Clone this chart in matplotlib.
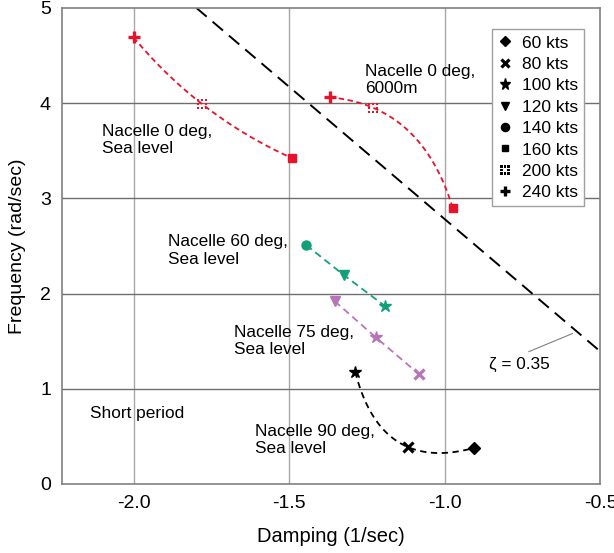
import numpy as np
import matplotlib
matplotlib.use("Agg")
import matplotlib.pyplot as plt
from matplotlib.lines import Line2D
from matplotlib.path import Path

plt.rcParams['font.family'] = ['Liberation Sans', 'DejaVu Sans']


def dotted_square():
    """Square outline broken into eight small blocks (corners and edge midpoints)."""
    verts, codes = [], []
    h = 0.32
    for cx in (-1, 0, 1):
        for cy in (-1, 0, 1):
            if cx == 0 and cy == 0:
                continue
            verts += [(cx - h, cy - h), (cx + h, cy - h), (cx + h, cy + h), (cx - h, cy + h), (cx - h, cy - h)]
            codes += [Path.MOVETO, Path.LINETO, Path.LINETO, Path.LINETO, Path.CLOSEPOLY]
    return Path(verts, codes)


# Airspeed key: label -> marker style
speeds = ["60 kts", "80 kts", "100 kts", "120 kts", "140 kts", "160 kts", "200 kts", "240 kts"]
speed_markers = {
    "60 kts": dict(marker="D", ms=6),
    "80 kts": dict(marker="x", ms=7, mew=2.3),
    "100 kts": dict(marker="*", ms=9),
    "120 kts": dict(marker="v", ms=6.5),
    "140 kts": dict(marker="o", ms=6.5),
    "160 kts": dict(marker="s", ms=5.5),
    "200 kts": dict(marker=dotted_square(), ms=7.5, mew=0),
    "240 kts": dict(marker="+", ms=8, mew=2.4),
}

# Short-period roots (damping, frequency) for each configuration
n0_sl_speeds = ["240 kts", "200 kts", "160 kts"]
n0_sl_damp = [-2.00, -1.78, -1.49]
n0_sl_freq = [4.69, 3.99, 3.42]

n0_6k_speeds = ["240 kts", "200 kts", "160 kts"]
n0_6k_damp = [-1.37, -1.23, -0.975]
n0_6k_freq = [4.06, 3.95, 2.90]

n60_speeds = ["140 kts", "120 kts", "100 kts"]
n60_damp = [-1.446, -1.323, -1.193]
n60_freq = [2.51, 2.19, 1.87]

n75_speeds = ["120 kts", "100 kts", "80 kts"]
n75_damp = [-1.354, -1.222, -1.082]
n75_freq = [1.92, 1.54, 1.15]

n90_speeds = ["100 kts", "80 kts", "60 kts"]
n90_damp = [-1.288, -1.12, -0.905]
n90_freq = [1.18, 0.39, 0.38]

zeta = 0.35
zeta_slope = 2.78  # frequency per unit damping along the constant-zeta line

RED = "#e8132b"
GREEN = "#12a07a"
PURPLE = "#b874b8"
BLACK = "#000000"

fig = plt.figure(figsize=(6.14, 5.53), dpi=100)
ax = fig.add_axes([0.101, 0.1248, 0.877, 0.861])
ax.set_xlim(-2.23, -0.5)
ax.set_ylim(0, 5)

# Grid and frame
for xv in [-2.0, -1.5, -1.0]:
    ax.axvline(xv, color="#a8a8a8", lw=1.0, zorder=0)
for yv in [1, 2, 3, 4]:
    ax.axhline(yv, color="#6e6e6e", lw=1.0, zorder=0)
for s in ax.spines.values():
    s.set_color("#808080")
    s.set_linewidth(1.2)

ax.set_xticks([-2.0, -1.5, -1.0, -0.5])
ax.set_xticklabels(["-2.0", "-1.5", "-1.0", "-0.5"])
ax.set_yticks([0, 1, 2, 3, 4, 5])
ax.tick_params(length=0, labelsize=14, pad=8)
ax.set_xlabel("Damping (1/sec)", fontsize=14.5, labelpad=11)
ax.set_ylabel("Frequency (rad/sec)", fontsize=14, labelpad=10)


def smooth_through(xs, ys, n=80):
    """Parametric quadratic through three points, built in display space."""
    pts = ax.transData.transform(np.column_stack([xs, ys]))
    d = np.sqrt(np.sum(np.diff(pts, axis=0) ** 2, axis=1))
    t = np.concatenate([[0], np.cumsum(d)])
    t = t / t[-1]
    tt = np.linspace(0, 1, n)
    cx = np.polyfit(t, pts[:, 0], 2)
    cy = np.polyfit(t, pts[:, 1], 2)
    curve = np.column_stack([np.polyval(cx, tt), np.polyval(cy, tt)])
    back = ax.transData.inverted().transform(curve)
    return back[:, 0], back[:, 1]


def draw_series(xs, ys, labels, color, curved, dashes):
    if curved:
        cx, cy = smooth_through(xs, ys)
    else:
        cx, cy = xs, ys
    ax.plot(cx, cy, color=color, lw=1.3, dashes=dashes, zorder=2)
    for x, y, lab in zip(xs, ys, labels):
        st = dict(speed_markers[lab])
        ax.plot([x], [y], linestyle="none", color=color, mfc=color, mec=color, zorder=3, **st)


draw_series(n0_sl_damp, n0_sl_freq, n0_sl_speeds, RED, True, (3, 2))
draw_series(n0_6k_damp, n0_6k_freq, n0_6k_speeds, RED, True, (3, 2))
draw_series(n60_damp, n60_freq, n60_speeds, GREEN, False, (4, 2.5))
draw_series(n75_damp, n75_freq, n75_speeds, PURPLE, False, (4, 2.5))
draw_series(n90_damp, n90_freq, n90_speeds, BLACK, True, (3.5, 2.5))

# Constant damping ratio line
zx = np.array([-5.0 / zeta_slope, -0.5])
ax.plot(zx, -zeta_slope * zx, color="black", lw=1.4, dashes=(7, 4), zorder=1)
ax.plot([-0.73, -0.59], [1.39, 1.58], color="#808080", lw=0.8, zorder=1)
ax.text(-0.858, 1.26, "\u03b6 = 0.35", fontsize=12.4, va="center", ha="left")

# Configuration labels
txt = dict(fontsize=12.4, va="center", ha="left", linespacing=1.2)
ax.text(-2.10, 3.61, "Nacelle 0 deg,\nSea level", **txt)
ax.text(-1.256, 4.24, "Nacelle 0 deg,\n6000m", **txt)
ax.text(-1.889, 2.45, "Nacelle 60 deg,\nSea level", **txt)
ax.text(-1.677, 1.50, "Nacelle 75 deg,\nSea level", **txt)
ax.text(-1.61, 0.46, "Nacelle 90 deg,\nSea level", **txt)
ax.text(-2.139, 0.74, "Short period", fontsize=12.4, va="center", ha="left")

# Airspeed legend
handles = []
for lab in speeds:
    st = dict(speed_markers[lab])
    st["ms"] = st["ms"] * 0.9
    handles.append(Line2D([], [], linestyle="none", color="black", mfc="black", mec="black", **st))
leg = ax.legend(handles, speeds, loc="upper right", bbox_to_anchor=(0.97, 0.955),
                borderaxespad=0, fancybox=False, edgecolor="#a0a0a0", fontsize=12.5,
                handlelength=0.8, handletextpad=0.6, labelspacing=0.36, borderpad=0.35,
                framealpha=1)
leg.get_frame().set_linewidth(1.0)

fig.savefig("out.png", dpi=100)
